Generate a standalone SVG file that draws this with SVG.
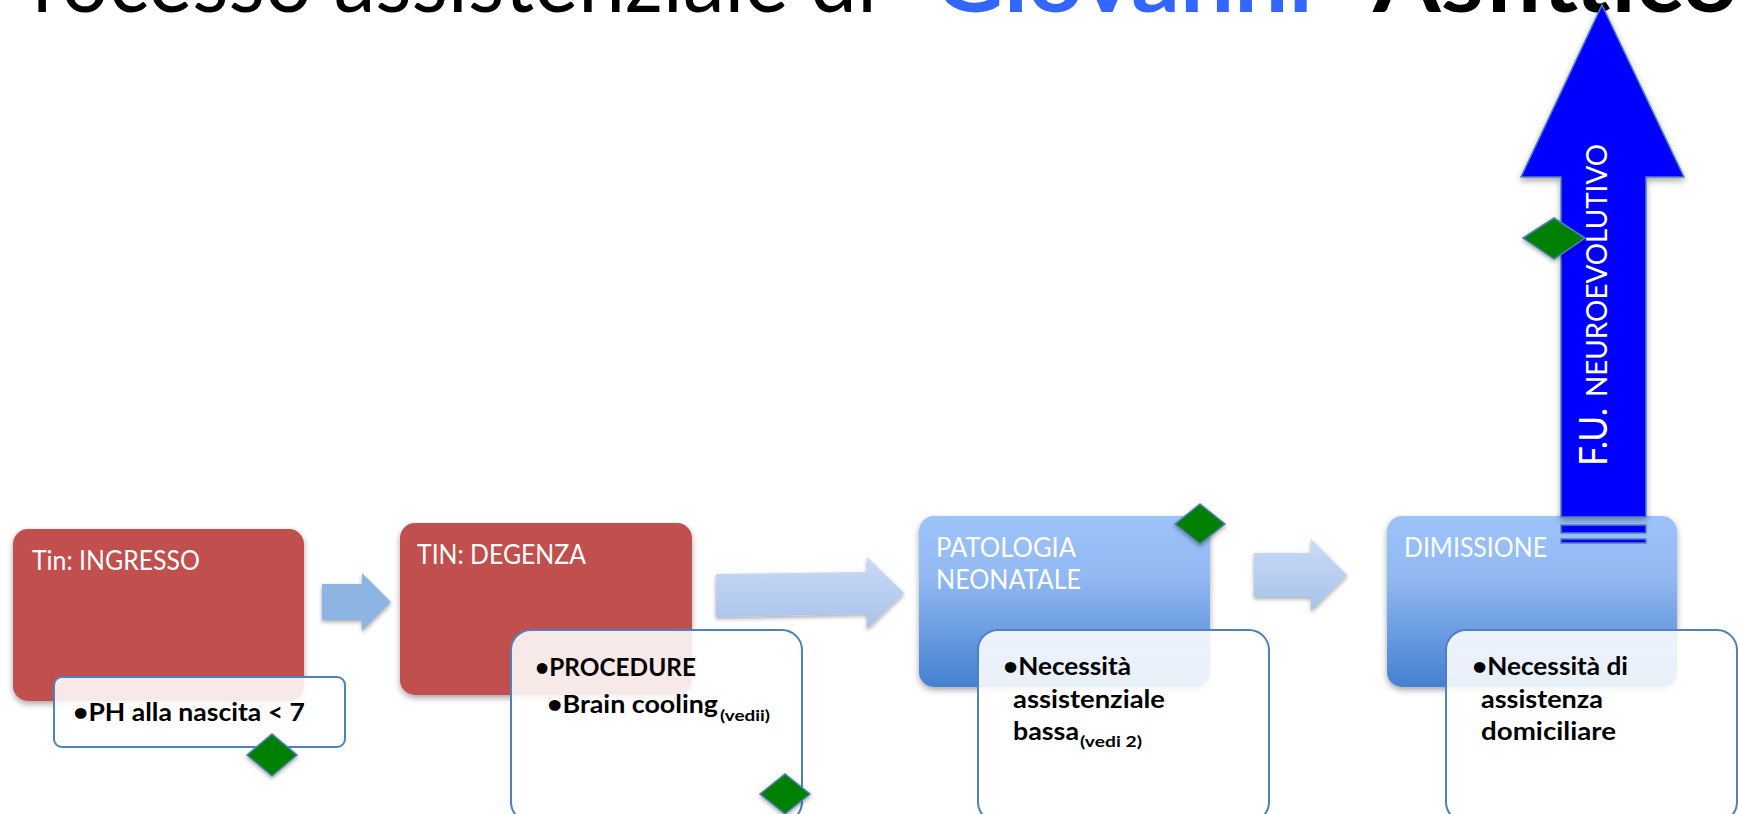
<svg xmlns="http://www.w3.org/2000/svg" width="1738" height="814" viewBox="0 0 1738 814">
<defs>
<style>
.title{font-family:Lato,"Liberation Sans",sans-serif;font-size:90px;fill:#000}
.hdr{font-family:Lato,"Liberation Sans",sans-serif;font-size:27px;fill:#fff}
.bt{font-family:Lato,"Liberation Sans",sans-serif;font-size:25px;font-weight:bold;fill:#000}
.sub{font-family:Lato,"Liberation Sans",sans-serif;font-size:15px;font-weight:bold;fill:#000}
.vt{font-family:Lato,"Liberation Sans",sans-serif;fill:#fff}
.red{fill:#C0504D}
.blue{fill:url(#gBlue)}
.note{fill:#fff;fill-opacity:0.88;stroke:#4F81BD;stroke-width:2}
.dia{fill:#008000;stroke:#4F81BD;stroke-width:1.5}
</style>
<linearGradient id="gBlue" x1="0" y1="0" x2="0" y2="1">
<stop offset="0" stop-color="#9DC3FB"/>
<stop offset="0.35" stop-color="#93B9F2"/>
<stop offset="1" stop-color="#4481D0"/>
</linearGradient>
<linearGradient id="gArrow" x1="0" y1="0" x2="0" y2="1">
<stop offset="0" stop-color="#C8DBF8"/>
<stop offset="1" stop-color="#A9C2EA"/>
</linearGradient>
<filter id="sh" x="-20%" y="-20%" width="140%" height="150%">
<feDropShadow dx="0" dy="3" stdDeviation="3" flood-color="#000" flood-opacity="0.35"/>
</filter>
<filter id="shs" x="-30%" y="-30%" width="160%" height="170%">
<feDropShadow dx="0" dy="2" stdDeviation="2" flood-color="#000" flood-opacity="0.35"/>
</filter>
</defs>
<rect width="1738" height="814" fill="#fff"/>

<g id="title">
<text class="title" x="-17" y="12" textLength="894" lengthAdjust="spacingAndGlyphs">Processo assistenziale di</text>
<text class="title" x="897" y="12" font-weight="bold" style="fill:#3366FF" textLength="453" lengthAdjust="spacingAndGlyphs">“Giovanni”</text>
<text class="title" x="1373" y="12" font-weight="bold" textLength="365" lengthAdjust="spacingAndGlyphs">Asfittico</text>
</g>

<g id="node-ingresso">
<rect class="red" x="13" y="529" width="291" height="172" rx="15" filter="url(#sh)"/>
<text class="hdr" x="32" y="570" textLength="168" lengthAdjust="spacingAndGlyphs">Tin: INGRESSO</text>
</g>
<g id="node-degenza">
<rect class="red" x="400" y="523" width="292" height="172" rx="15" filter="url(#sh)"/>
<text class="hdr" x="417" y="564" textLength="169" lengthAdjust="spacingAndGlyphs">TIN: DEGENZA</text>
</g>
<g id="node-patologia">
<rect class="blue" x="919" y="516" width="291" height="171" rx="15" filter="url(#sh)"/>
<text class="hdr" x="936" y="557" textLength="140" lengthAdjust="spacingAndGlyphs">PATOLOGIA</text>
<text class="hdr" x="936" y="589" textLength="145" lengthAdjust="spacingAndGlyphs">NEONATALE</text>
</g>
<g id="node-dimissione">
<rect class="blue" x="1387" y="516" width="290" height="171" rx="15" filter="url(#sh)"/>
<text class="hdr" x="1404" y="557" textLength="143" lengthAdjust="spacingAndGlyphs">DIMISSIONE</text>
</g>

<g id="connectors">
<polygon points="322,584 362,584 362,573 391,602 362,631 362,620 322,620" fill="#8DB4E2" filter="url(#shs)"/>
<polygon points="716,574 867,572 867,557 904,593 867,629 867,614 716,617" fill="url(#gArrow)" filter="url(#shs)"/>
<polygon points="1254,553 1311,553 1311,539 1347,575 1311,611 1311,597 1254,597" fill="url(#gArrow)" filter="url(#shs)"/>
</g>

<g id="node-followup">
<path d="M1602,5 L1684,177 L1646,177 L1646,517 L1561,517 L1561,177 L1521,177 Z" fill="#0000FF" stroke="#4F81BD" stroke-width="1.5" filter="url(#sh)"/>
<rect x="1561" y="525" width="85" height="8" fill="#0000FF" stroke="#4F81BD" stroke-width="1.5"/>
<rect x="1561" y="539" width="85" height="4" fill="#0000FF" stroke="#4F81BD" stroke-width="1.5"/>
<text class="vt" transform="translate(1607,466) rotate(-90)" font-size="38" textLength="58" lengthAdjust="spacingAndGlyphs">F.U.</text>
<text class="vt" transform="translate(1607,397) rotate(-90)" font-size="28" textLength="253" lengthAdjust="spacingAndGlyphs">NEUROEVOLUTIVO</text>
</g>

<g id="note-ingresso">
<rect class="note" x="54" y="677" width="291" height="70" rx="8"/>
<text class="bt" x="73" y="721" textLength="232" lengthAdjust="spacingAndGlyphs">•PH alla nascita &lt; 7</text>
</g>
<g id="note-degenza">
<rect class="note" x="511" y="630" width="291" height="192" rx="20"/>
<text class="bt" x="535" y="676" textLength="161" lengthAdjust="spacingAndGlyphs">•PROCEDURE</text>
<text class="bt" x="547" y="713" textLength="171" lengthAdjust="spacingAndGlyphs">•Brain cooling</text>
<text class="sub" x="720" y="721" textLength="50" lengthAdjust="spacingAndGlyphs">(vedii)</text>
</g>
<g id="note-patologia">
<rect class="note" x="978" y="630" width="291" height="192" rx="20"/>
<text class="bt" x="1003" y="675" textLength="128" lengthAdjust="spacingAndGlyphs">•Necessità</text>
<text class="bt" x="1013" y="708" textLength="152" lengthAdjust="spacingAndGlyphs">assistenziale</text>
<text class="bt" x="1013" y="740" textLength="66" lengthAdjust="spacingAndGlyphs">bassa</text>
<text class="sub" x="1080" y="747" textLength="62" lengthAdjust="spacingAndGlyphs">(vedi 2)</text>
</g>
<g id="note-dimissione">
<rect class="note" x="1446" y="630" width="291" height="192" rx="20"/>
<text class="bt" x="1472" y="675" textLength="156" lengthAdjust="spacingAndGlyphs">•Necessità di</text>
<text class="bt" x="1481" y="708" textLength="122" lengthAdjust="spacingAndGlyphs">assistenza</text>
<text class="bt" x="1481" y="740" textLength="135" lengthAdjust="spacingAndGlyphs">domiciliare</text>
</g>

<g id="diamond-1"><polygon class="dia" points="247,755 272,734 297,755 272,776" filter="url(#shs)"/></g>
<g id="diamond-2"><polygon class="dia" points="760,794 785,774 810,794 785,814" filter="url(#shs)"/></g>
<g id="diamond-3"><polygon class="dia" points="1175,524 1200,504 1225,524 1200,544" filter="url(#shs)"/></g>
<g id="diamond-4"><polygon class="dia" points="1523,238 1554,218 1585,238 1554,259" filter="url(#shs)"/></g>
</svg>
